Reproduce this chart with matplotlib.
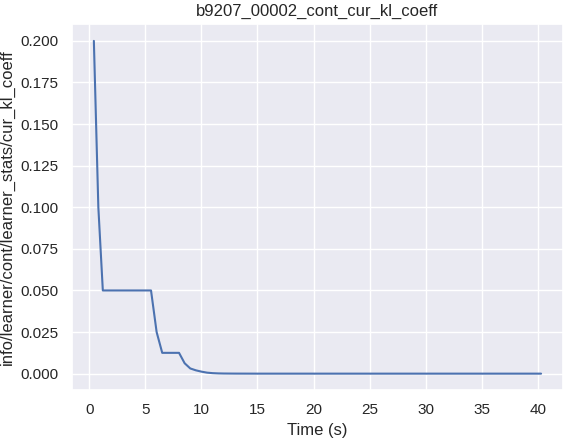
import matplotlib
matplotlib.use("Agg")
import matplotlib.pyplot as plt
import seaborn as sns

sns.set_theme(style="darkgrid")
plt.rcParams['font.family'] = ['Liberation Sans', 'DejaVu Sans']

time_s = [0.4, 0.8, 1.2, 2.0, 3.0, 4.0, 5.0, 5.5, 6.0, 6.5, 7.0, 7.5, 8.0, 8.5, 9.0,
          9.5, 10.0, 10.5, 11.0, 11.5, 12.0, 13.0, 15.0, 20.0, 25.0, 30.0, 35.0, 40.3]
kl_coeff = [0.2, 0.1, 0.05, 0.05, 0.05, 0.05, 0.05, 0.05, 0.025, 0.0125, 0.0125, 0.0125,
            0.0125, 0.00625, 0.003125, 0.002, 0.0012, 0.0006, 0.0003, 0.00015, 0.00008,
            0.00003, 0.0, 0.0, 0.0, 0.0, 0.0, 0.0]

fig, ax = plt.subplots(figsize=(5.72, 4.41), dpi=100)
ax.plot(time_s, kl_coeff)
ax.set_xlabel("Time (s)", fontsize=12)
ax.set_ylabel("info/learner/cont/learner_stats/cur_kl_coeff", fontsize=12)
ax.set_title("b9207_00002_cont_cur_kl_coeff", fontsize=12)
ax.tick_params(labelsize=11)
ax.set_xticks(range(0, 45, 5))
fig.subplots_adjust(left=0.125, right=0.985, top=0.945, bottom=0.115)
fig.savefig("out.png")
